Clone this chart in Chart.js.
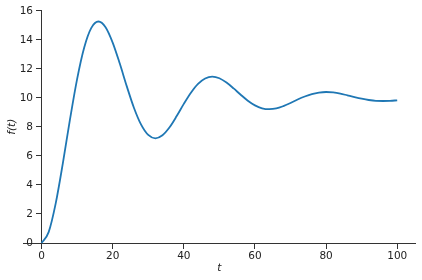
<!DOCTYPE html>
<html>
<head>
<meta charset="utf-8">
<script src="https://cdn.jsdelivr.net/npm/chart.js@4"></script>
<style>
html,body{margin:0;padding:0;background:#fff;}
#wrap{width:422px;height:280px;position:relative;}
</style>
</head>
<body>
<div id="wrap"><canvas id="c" width="422" height="280"></canvas></div>
<script>
const tValues = [0,2,4,6,8,10,12,14,16,18,20,22,24,26,28,30,32,34,36,38,40,42,44,46,48,50,52,54,56,58,60,62,64,66,68,70,72,74,76,78,80,82,84,86,88,90,92,94,96,98,100];
const fValues = [0,0.75,2.75,5.51,8.52,11.30,13.48,14.83,15.27,14.88,13.82,12.37,10.78,9.31,8.16,7.45,7.22,7.43,7.98,8.75,9.59,10.36,10.97,11.34,11.47,11.36,11.06,10.66,10.22,9.81,9.49,9.29,9.23,9.28,9.44,9.65,9.89,10.10,10.27,10.37,10.41,10.38,10.30,10.18,10.06,9.95,9.86,9.80,9.79,9.80,9.84];
const xTicks = [0,20,40,60,80,100];
const yTicks = [0,2,4,6,8,10,12,14,16];
const xLabel = 't';
const yLabel = 'f(t)';

const points = tValues.map((t,i)=>({x:t,y:fValues[i]}));
const axisColor = '#333';
const textColor = '#222';
const tickFont = {family:'DejaVu Sans', size:10.5};
const yLabelGap = 8.5;

const titlePlugin = {
  id:'axisTitles',
  beforeDraw(chart){
    const s = chart.scales.y;
    if (s && !s._shifted) {
      const items = s._computeLabelItems(chart.chartArea);
      items.forEach(it=>{ it.options.translation[0] -= yLabelGap; });
      s._labelItems = items;
      s._shifted = true;
    }
  },
  afterUpdate(chart){
    if (chart.scales.y) chart.scales.y._shifted = false;
  },
  afterDraw(chart){
    const {ctx, chartArea} = chart;
    ctx.save();
    ctx.fillStyle = textColor;
    ctx.font = 'italic 10.5px "DejaVu Sans"';
    ctx.textAlign = 'center';
    ctx.textBaseline = 'middle';
    ctx.fillText(xLabel, (chartArea.left+chartArea.right)/2, 268);
    ctx.translate(12, (chartArea.top+chartArea.bottom)/2);
    ctx.rotate(-Math.PI/2);
    ctx.fillText(yLabel, 0, 0);
    ctx.restore();
  }
};

new Chart(document.getElementById('c'), {
  type:'line',
  data:{datasets:[{
    data:points,
    borderColor:'#1f77b4',
    borderWidth:1.8,
    pointRadius:0,
    fill:false,
    tension:0.4,
    cubicInterpolationMode:'monotone',
    clip:false
  }]},
  options:{
    responsive:false,
    animation:false,
    devicePixelRatio:1,
    layout:{padding:{left:23.75,right:7,top:10.5,bottom:37}},
    plugins:{legend:{display:false},tooltip:{enabled:false}},
    scales:{
      x:{
        type:'linear',
        min:-5,max:105,
        position:{y:0},
        afterFit(s){s.height=0;},
        afterBuildTicks(s){s.ticks = xTicks.map(v=>({value:v}));},
        grid:{display:true,drawOnChartArea:false,drawTicks:true,tickLength:5,color:axisColor,lineWidth:1},
        border:{display:true,color:axisColor,width:1},
        ticks:{color:textColor,font:tickFont,padding:2,maxRotation:0,autoSkip:false}
      },
      y:{
        type:'linear',
        min:0,max:16.03,
        position:{x:0},
        afterFit(s){s.width=0;},
        afterBuildTicks(s){s.ticks = yTicks.map(v=>({value:v}));},
        grid:{display:true,drawOnChartArea:false,drawTicks:true,tickLength:5,color:axisColor,lineWidth:1},
        border:{display:true,color:axisColor,width:1},
        ticks:{color:textColor,font:tickFont,padding:3,autoSkip:false}
      }
    }
  },
  plugins:[titlePlugin]
});
</script>
</body>
</html>
